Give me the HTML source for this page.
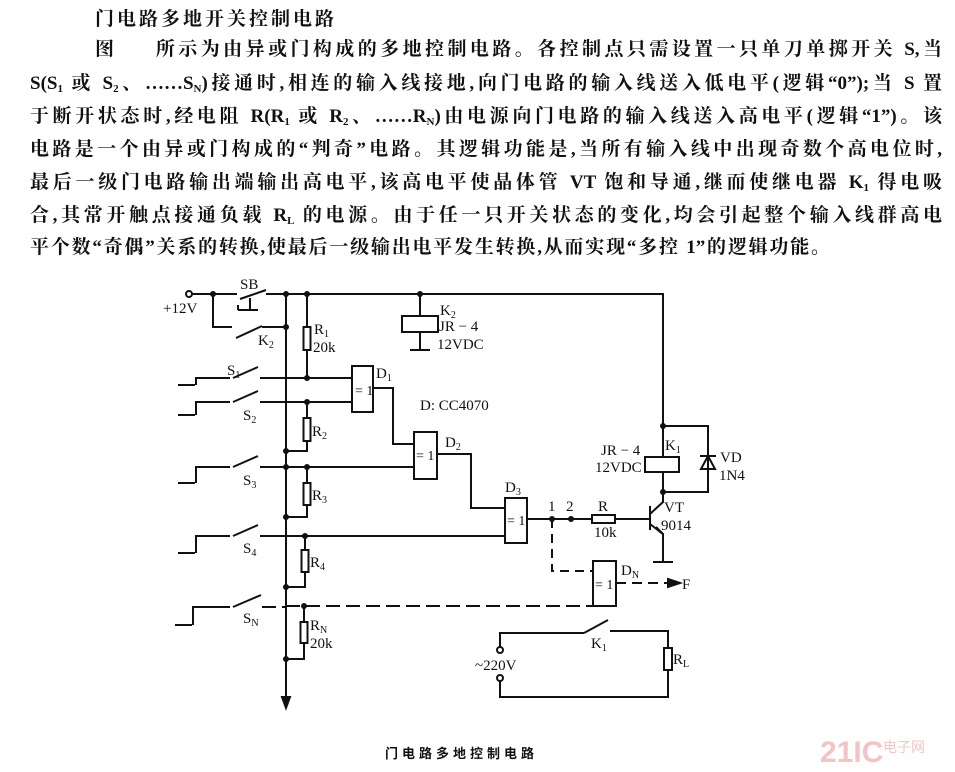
<!DOCTYPE html>
<html><head><meta charset="utf-8">
<style>
html,body{margin:0;padding:0;background:#fff;}
body{width:955px;height:772px;position:relative;overflow:hidden;font-family:"Liberation Serif","Noto Serif CJK SC","Noto Sans CJK SC",serif;color:#111;}
.l{position:absolute;left:30px;width:912px;font-size:19px;line-height:22px;white-space:nowrap;text-align:justify;text-align-last:justify;font-weight:bold;}
.l sub{font-size:11px;vertical-align:-3px;line-height:0;}
svg{position:absolute;left:0;top:0;}
</style></head><body>
<div class="l" style="left:95px;width:auto;top:9px;letter-spacing:3px;text-align-last:auto;font-size:19px;">门电路多地开关控制电路</div>
<div class="l" style="left:95px;width:847px;top:39px;"><span>图</span><span style="display:inline-block;width:35px"></span>所示为由异或门构成的多地控制电路。各控制点只需设置一只单刀单掷开关 S,当</div>
<div class="l" style="top:73px;">S(S<sub>1</sub> 或 S<sub>2</sub>、……S<sub>N</sub>)接通时,相连的输入线接地,向门电路的输入线送入低电平(逻辑“0”);当 S 置</div>
<div class="l" style="top:106px;">于断开状态时,经电阻 R(R<sub>1</sub> 或 R<sub>2</sub>、……R<sub>N</sub>)由电源向门电路的输入线送入高电平(逻辑“1”)。该</div>
<div class="l" style="top:139px;">电路是一个由异或门构成的“判奇”电路。其逻辑功能是,当所有输入线中出现奇数个高电位时,</div>
<div class="l" style="top:172px;">最后一级门电路输出端输出高电平,该高电平使晶体管 VT 饱和导通,继而使继电器 K<sub>1</sub> 得电吸</div>
<div class="l" style="top:205px;">合,其常开触点接通负载 R<sub>L</sub> 的电源。由于任一只开关状态的变化,均会引起整个输入线群高电</div>
<div class="l" style="top:237px;width:800px;">平个数“奇偶”关系的转换,使最后一级输出电平发生转换,从而实现“多控 1”的逻辑功能。</div>

<svg width="955" height="772" viewBox="0 0 955 772" font-family="Liberation Serif, serif" font-size="15" fill="none" stroke="#111" stroke-width="2">
<circle cx="189" cy="294" r="3" fill="#fff"/>
<path d="M192 294H237 M240 299L266 290 M266 294H663V426"/>
<path d="M238 310H258 M250 298V310 M238 305V310"/>
<path d="M213 294V327H232 M236 338L262 326 M262 327H286"/>
<path d="M286 294V700"/>
<path d="M282 697L286 708L290 697Z" fill="#111"/>
<path d="M420 294V316 M420 332V350 M410 350H430"/>
<rect x="402" y="316" width="36" height="16"/>
<path d="M307 294V327 M307 350V378"/>
<rect x="303.5" y="327" width="7" height="23"/>
<path d="M178 385H195 M196 385V378H230 M233 378L258 367 M260 378H352"/>
<path d="M178 415H195 M196 415V402H230 M233 402L258 391 M260 402H352"/>
<path d="M307 402V418 M307 441V451H286"/>
<rect x="303.5" y="418" width="7" height="23"/>
<rect x="352" y="366" width="21" height="46"/>
<path d="M373 388H393V444H414"/>
<rect x="414" y="432" width="23" height="47"/>
<path d="M437 454H471V508H505"/>
<path d="M178 483H195 M196 483V467H230 M233 467L258 456 M260 467H414"/>
<path d="M307 467V483 M307 505V517H286"/>
<rect x="303.5" y="483" width="7" height="22"/>
<rect x="505" y="498" width="22" height="45"/>
<path d="M178 553H195 M196 553V536H230 M233 536L258 525 M260 536H505"/>
<path d="M305 536V550 M305 572V587H286"/>
<rect x="301.5" y="550" width="7" height="22"/>
<path d="M175 625H192 M193 625V607H230 M233 607L261 595" />
<path d="M262 607H286 M286 606H593" stroke-dasharray="14 6"/>
<path d="M304 606V622 M304 643V659H286"/>
<rect x="300.5" y="622" width="7" height="21"/>
<path d="M527 519H592 M615 519H650"/>
<rect x="592" y="515" width="23" height="8"/>
<path d="M650 506V530 M650 514L663 502V492 M650 524L663 534V562 M653 562H673"/>
<path d="M663 534L656 527L659 531Z" fill="#111"/>
<path d="M663 426H708V492H663 M663 426V457 M663 472V492"/>
<rect x="645" y="457" width="34" height="15"/>
<path d="M700 456H716 M708 456L701 469H715Z"/>
<path d="M552 519V571H593" stroke-dasharray="9 6"/>
<rect x="593" y="561" width="23" height="45"/>
<path d="M616 583H672" stroke-dasharray="10 6"/>
<path d="M668 579L680 583L668 587Z" fill="#111"/>
<circle cx="500" cy="650" r="3" fill="#fff"/>
<circle cx="500" cy="678" r="3" fill="#fff"/>
<path d="M500 647V633H584 M584 633L608 620 M610 631H668V648 M668 670V697H500V681"/>
<rect x="664" y="648" width="8" height="22"/>
<g fill="#111" stroke="none">
<circle cx="213" cy="294" r="3"/><circle cx="286" cy="294" r="3"/><circle cx="307" cy="294" r="3"/><circle cx="420" cy="294" r="3"/>
<circle cx="286" cy="327" r="3"/><circle cx="307" cy="378" r="3"/><circle cx="307" cy="402" r="3"/><circle cx="286" cy="451" r="3"/>
<circle cx="286" cy="467" r="3"/><circle cx="307" cy="467" r="3"/><circle cx="286" cy="517" r="3"/><circle cx="305" cy="536" r="3"/>
<circle cx="286" cy="587" r="3"/><circle cx="304" cy="606" r="3"/><circle cx="286" cy="659" r="3"/>
<circle cx="552" cy="519" r="3"/><circle cx="571" cy="519" r="3"/><circle cx="663" cy="426" r="3"/><circle cx="663" cy="492" r="3"/>
</g>
<g fill="#111" stroke="none">
<text x="240" y="289">SB</text>
<text x="163" y="313">+12V</text>
<text x="258" y="345">K<tspan font-size="10" dy="3">2</tspan></text>
<text x="314" y="334">R<tspan font-size="10" dy="3">1</tspan></text>
<text x="313" y="352">20k</text>
<text x="440" y="315">K<tspan font-size="10" dy="3">2</tspan></text>
<text x="439" y="331">JR − 4</text>
<text x="437" y="349">12VDC</text>
<text x="227" y="375">S<tspan font-size="10" dy="3">1</tspan></text>
<text x="243" y="420">S<tspan font-size="10" dy="3">2</tspan></text>
<text x="243" y="485">S<tspan font-size="10" dy="3">3</tspan></text>
<text x="243" y="553">S<tspan font-size="10" dy="3">4</tspan></text>
<text x="243" y="623">S<tspan font-size="10" dy="3">N</tspan></text>
<text x="312" y="436">R<tspan font-size="10" dy="3">2</tspan></text>
<text x="312" y="500">R<tspan font-size="10" dy="3">3</tspan></text>
<text x="310" y="567">R<tspan font-size="10" dy="3">4</tspan></text>
<text x="310" y="630">R<tspan font-size="10" dy="3">N</tspan></text>
<text x="310" y="648">20k</text>
<text x="355" y="395" font-size="14">= 1</text>
<text x="376" y="378">D<tspan font-size="10" dy="3">1</tspan></text>
<text x="420" y="410">D: CC4070</text>
<text x="416" y="460" font-size="14">= 1</text>
<text x="445" y="447">D<tspan font-size="10" dy="3">2</tspan></text>
<text x="507" y="525" font-size="14">= 1</text>
<text x="505" y="492">D<tspan font-size="10" dy="3">3</tspan></text>
<text x="548" y="511">1</text>
<text x="566" y="511">2</text>
<text x="598" y="511">R</text>
<text x="594" y="537">10k</text>
<text x="664" y="512">VT</text>
<text x="661" y="530">9014</text>
<text x="601" y="455">JR − 4</text>
<text x="595" y="472">12VDC</text>
<text x="665" y="450">K<tspan font-size="10" dy="3">1</tspan></text>
<text x="720" y="462">VD</text>
<text x="719" y="480">1N4</text>
<text x="595" y="589" font-size="14">= 1</text>
<text x="621" y="575">D<tspan font-size="10" dy="3">N</tspan></text>
<text x="682" y="589">F</text>
<text x="591" y="648">K<tspan font-size="10" dy="3">1</tspan></text>
<text x="673" y="664">R<tspan font-size="10" dy="3">L</tspan></text>
<text x="475" y="670">~220V</text>
<text x="385" y="758" font-size="13" letter-spacing="4" font-weight="bold" font-family="Noto Sans CJK SC, sans-serif">门电路多地控制电路</text>
<text x="820" y="762" font-size="30" font-weight="bold" fill="#f2c4c4" font-family="Liberation Sans, sans-serif">21IC</text>
<text x="883" y="752" font-size="14" fill="#f2c4c4" font-family="Noto Sans CJK SC, sans-serif">电子网</text>
</g>
</svg>
</body></html>
